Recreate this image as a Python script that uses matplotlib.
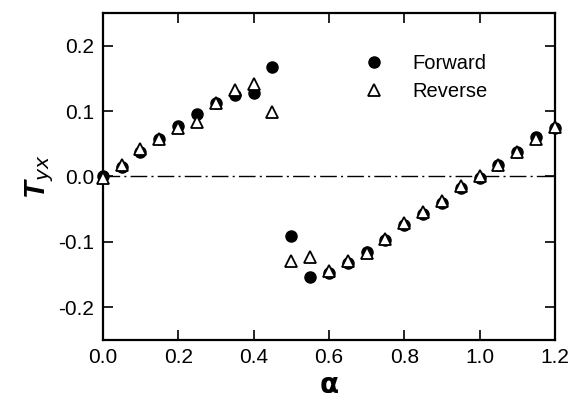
import numpy as np
import matplotlib.pyplot as plt

plt.rcParams["font.family"] = ["Liberation Sans", "DejaVu Sans"]

alpha = [0.0, 0.05, 0.10, 0.15, 0.20, 0.25, 0.30, 0.35, 0.40, 0.45, 0.50, 0.55,
         0.60, 0.65, 0.70, 0.75, 0.80, 0.85, 0.90, 0.95, 1.00, 1.05, 1.10, 1.15, 1.20]
forward = [0.0, 0.015, 0.037, 0.058, 0.077, 0.095, 0.112, 0.125, 0.127, 0.167,
           -0.091, -0.154, -0.147, -0.132, -0.115, -0.097, -0.075, -0.057, -0.040,
           -0.018, -0.002, 0.017, 0.037, 0.060, 0.074]
reverse = [-0.002, 0.018, 0.042, 0.058, 0.074, 0.083, 0.112, 0.133, 0.142, 0.099,
           -0.130, -0.123, -0.145, -0.130, -0.117, -0.095, -0.072, -0.055, -0.038,
           -0.015, 0.0, 0.018, 0.038, 0.057, 0.076]

fig = plt.figure(figsize=(5.71, 4.07), dpi=100)
ax = fig.add_axes([0.180, 0.165, 0.792, 0.803])

ax.axhline(0, color="black", lw=1.0, ls=(0, (12, 3, 1.5, 3)), zorder=1)
ax.plot(alpha, forward, "o", color="black", ms=8, label="Forward", zorder=3,
        clip_on=False)
ax.plot(alpha, reverse, "^", mfc="white", mec="black", mew=1.3, ms=8,
        label="Reverse", zorder=4, clip_on=False)

ax.set_xlim(0, 1.2)
ax.set_ylim(-0.25, 0.25)
ax.set_xticks(np.arange(0, 1.21, 0.2))
ax.set_yticks([-0.2, -0.1, 0.0, 0.1, 0.2])
ax.xaxis.set_major_formatter(plt.FormatStrFormatter("%.1f"))
ax.yaxis.set_major_formatter(plt.FormatStrFormatter("%.1f"))
ax.tick_params(direction="in", top=True, right=True, length=7, width=1.2,
               labelsize=15, pad=6)
for s in ax.spines.values():
    s.set_linewidth(1.6)

ax.set_xlabel(r"$\mathbf{\alpha}$", fontsize=20, labelpad=4)
ax.set_ylabel("T$_{yx}$", fontsize=21, fontweight="bold", fontstyle="italic",
              labelpad=2)

ax.legend(loc="upper left", bbox_to_anchor=(0.515, 0.93), frameon=False,
          fontsize=14.5, handletextpad=0.9, labelspacing=0.45)

fig.savefig("out.png", dpi=100)
